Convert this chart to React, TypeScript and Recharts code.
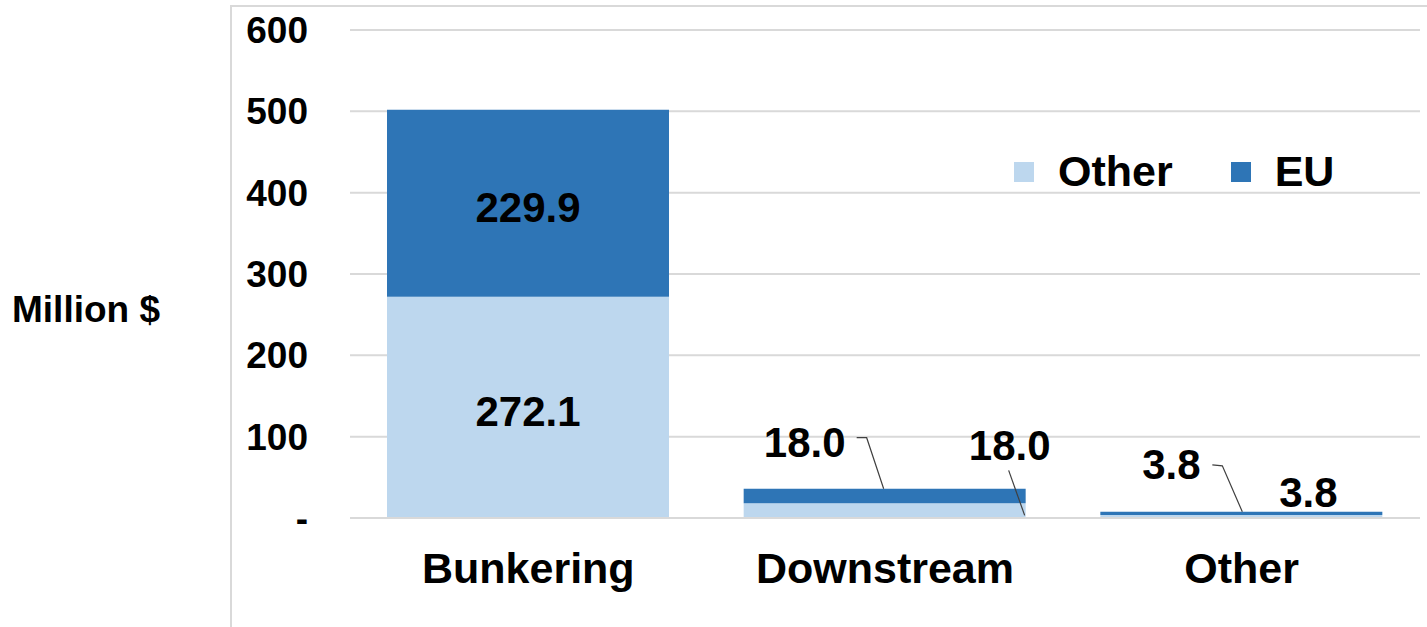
import { Bar, BarChart, CartesianGrid, LabelList, XAxis, YAxis } from "recharts";

const CATEGORIES = ["Bunkering", "Downstream", "Other"];
const OTHER_VALUES = [272.1, 18.0, 3.8];
const EU_VALUES = [229.9, 18.0, 3.8];
const Y_TICKS = [0, 100, 200, 300, 400, 500, 600];

const LIGHT = "#BDD7EE";
const DARK = "#2E75B6";
const GRID = "#D9D9D9";
const FONT = "'Liberation Sans', Arial, sans-serif";

const data = CATEGORIES.map((name, i) => ({
  name,
  other: OTHER_VALUES[i],
  eu: EU_VALUES[i],
}));

// label placement for the thin bars (relative to the bar segment), keyed by category index
type Placement = { dx: number; dy: number; leader?: [number, number][] };
const EU_PLACE: Record<number, Placement> = {
  1: { dx: 61, dy: -46, leader: [[113, -51], [123, -51], [140, 0]] },
  2: { dx: 71, dy: -47, leader: [[112, -47], [122, -46], [142, 0]] },
};
const OTHER_PLACE: Record<number, Placement> = {
  1: { dx: 266, dy: -58, leader: [[265, -33], [281, 12]] },
  2: { dx: 208, dy: -22 },
};

function makeLabel(place: Record<number, Placement>) {
  return (props: any) => {
    const vb = props.viewBox ?? props;
    const x = Number(vb.x);
    const y = Number(vb.y);
    const w = Number(vb.width);
    const h = Number(vb.height);
    const index = props.index as number;
    const text = Number(props.value).toFixed(1);
    const style = { fontFamily: FONT, fontWeight: 700, fontSize: 42, fill: "#000" };
    const p = place[index];
    if (!p) {
      return (
        <text x={x + w / 2} y={y + h / 2 + 4} textAnchor="middle" dominantBaseline="central" style={style}>
          {text}
        </text>
      );
    }
    return (
      <g>
        {p.leader ? (
          <polyline
            points={p.leader.map(([a, b]) => `${x + a},${y + b}`).join(" ")}
            fill="none"
            stroke="#404040"
            strokeWidth={1.2}
          />
        ) : null}
        <text x={x + p.dx} y={y + p.dy} textAnchor="middle" dominantBaseline="central" style={style}>
          {text}
        </text>
      </g>
    );
  };
}

function LegendBox() {
  const item = (color: string, label: string) => (
    <span style={{ display: "inline-flex", alignItems: "center", marginRight: 58 }}>
      <span style={{ display: "inline-block", width: 20, height: 20, background: color, marginRight: 24 }} />
      <span style={{ fontFamily: FONT, fontWeight: 700, fontSize: 43, color: "#000", lineHeight: 1 }}>{label}</span>
    </span>
  );
  return (
    <div style={{ position: "absolute", left: 1014, top: 150, display: "flex", alignItems: "center" }}>
      {item(LIGHT, "Other")}
      {item(DARK, "EU")}
    </div>
  );
}

export default function App() {
  return (
    <div style={{ position: "absolute", left: 0, top: 0, width: 1427, height: 627, background: "#fff" }}>
      <div
        style={{
          position: "absolute",
          left: 230,
          top: 5,
          width: 1197,
          height: 622,
          borderTop: `2px solid ${GRID}`,
          borderLeft: `2px solid ${GRID}`,
          boxSizing: "border-box",
        }}
      />
      <div
        style={{
          position: "absolute",
          left: 12,
          top: 288,
          fontFamily: FONT,
          fontWeight: 700,
          fontSize: 37,
          lineHeight: "44px",
          color: "#000",
        }}
      >
        Million $
      </div>
      <BarChart
        width={1427}
        height={627}
        data={data}
        margin={{ top: 30, right: 7, bottom: 29, left: 230 }}
        style={{ position: "absolute", left: 0, top: 0 }}
      >
        <CartesianGrid horizontal vertical={false} stroke={GRID} strokeWidth={2} />
        <XAxis
          dataKey="name"
          height={80}
          tickLine={false}
          tickSize={0}
          tickMargin={34}
          axisLine={{ stroke: GRID, strokeWidth: 2 }}
          tick={{ fill: "#000", fontSize: 43, fontWeight: 700, fontFamily: FONT }}
        />
        <YAxis
          width={120}
          domain={[0, 600]}
          ticks={Y_TICKS}
          interval={0}
          axisLine={false}
          tickLine={false}
          tickSize={0}
          tickMargin={42}
          tick={{ fill: "#000", fontSize: 37, fontWeight: 700, fontFamily: FONT }}
          tickFormatter={(v) => (v === 0 ? "-" : String(v))}
        />
        <Bar dataKey="other" name="Other" stackId="a" fill={LIGHT} barSize={282} isAnimationActive={false}>
          <LabelList dataKey="other" content={makeLabel(OTHER_PLACE)} />
        </Bar>
        <Bar dataKey="eu" name="EU" stackId="a" fill={DARK} barSize={282} isAnimationActive={false}>
          <LabelList dataKey="eu" content={makeLabel(EU_PLACE)} />
        </Bar>
      </BarChart>
      <LegendBox />
    </div>
  );
}
